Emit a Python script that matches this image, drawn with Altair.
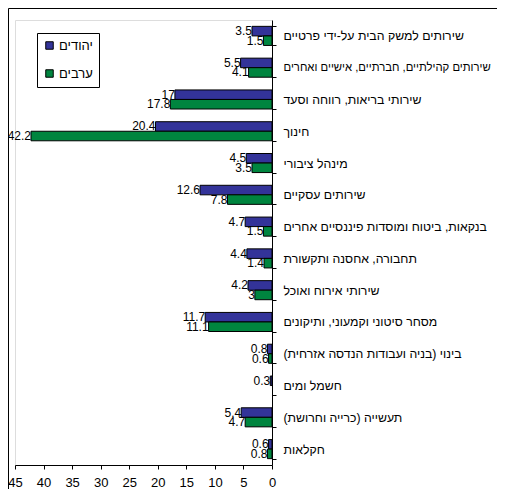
import altair as alt
import pandas as pd

RLM = "\u200f"
categories = [
    "שירותים למשק הבית על-ידי פרטיים",
    "שירותים קהילתיים, חברתיים, אישיים ואחרים",
    "שירותי בריאות, רווחה וסעד",
    "חינוך",
    "מינהל ציבורי",
    "שירותים עסקיים",
    "בנקאות, ביטוח ומוסדות פיננסיים אחרים",
    "תחבורה, אחסנה ותקשורת",
    "שירותי אירוח ואוכל",
    "מסחר סיטוני וקמעוני, ותיקונים",
    "בינוי (בניה ועבודות הנדסה אזרחית)" + RLM,
    "חשמל ומים",
    "תעשייה (כרייה וחרושת)" + RLM,
    "חקלאות",
]
jews = [3.5, 5.5, 17, 20.4, 4.5, 12.6, 4.7, 4.4, 4.2, 11.7, 0.8, 0.3, 5.4, 0.6]
arabs = [1.5, 4.1, 17.8, 42.2, 3.5, 7.8, 1.5, 1.4, 3, 11.1, 0.6, None, 4.7, 0.8]
groups = ["יהודים", "ערבים"]
colors = ["#333399", "#00853F"]
x_ticks = [0, 5, 10, 15, 20, 25, 30, 35, 40, 45]

rows = []
for i, c in enumerate(categories):
    for g, vals in zip(groups, [jews, arabs]):
        v = vals[i]
        if v is None:
            continue
        rows.append({"cat": c, "group": g, "value": v, "label": f"{v:g}"})
df = pd.DataFrame(rows)

FONT = "Liberation Sans"
W, H = 257, 445

y_enc = alt.Y(
    "cat:N",
    sort=categories,
    scale=alt.Scale(paddingInner=0.4, paddingOuter=0.2),
    axis=alt.Axis(
        orient="right", title=None, tickBand="extent", labelLimit=300,
        tickSize=4, labelPadding=7,
        labelFontSize={"condition": {"test": "length(datum.label) > 38", "value": 11.3}, "value": 12.3},
        labelFont=FONT,
        labelColor="black", domainColor="black", tickColor="black",
        labelAlign="left", labelBaseline="middle",
    ),
)
x_enc = alt.X(
    "value:Q",
    scale=alt.Scale(domain=[0, 45], reverse=True, nice=False),
    axis=alt.Axis(
        values=x_ticks, title=None, grid=False, tickSize=4, labelPadding=7,
        labelFontSize=13, labelFont=FONT, labelColor="black",
        labelOverlap=False, labelFlush=False,
        domainColor="black", tickColor="black",
    ),
)
yoff = alt.YOffset("group:N", sort=groups)

frame = alt.Chart(alt.Data(values=[{"a": 1}])).mark_rect(
    fill="transparent", stroke="black", strokeWidth=1
).encode(
    x=alt.value(-6.5), x2=alt.value(W + 300),
    y=alt.value(-11.5), y2=alt.value(H + 100),
)

bars = alt.Chart(df).mark_bar(stroke="black", strokeWidth=1).encode(
    y=y_enc, x=x_enc, yOffset=yoff,
    color=alt.Color(
        "group:N",
        scale=alt.Scale(domain=groups, range=colors),
        legend=alt.Legend(
            orient="none", legendX=22, legendY=13, title=None,
            symbolType="square", symbolSize=56, symbolStrokeColor="black",
            symbolStrokeWidth=1, symbolOpacity=1, strokeColor="black",
            fillColor="white", padding=6, rowPadding=14, labelOffset=3,
            labelFontSize=13, labelFont=FONT, labelColor="black",
        ),
    ),
)

labels = alt.Chart(df).mark_text(
    align="right", baseline="middle", dx=0, font=FONT, fontSize=12, color="black"
).encode(
    y=y_enc,
    x=x_enc,
    yOffset=yoff,
    text="label:N",
)

chart = alt.layer(frame, bars, labels).properties(
    width=W, height=H,
    autosize=alt.AutoSizeParams(type="none"),
    padding={"left": 7, "top": 12, "right": 225, "bottom": 24},
).configure_view(stroke=None).configure(background="white")

chart.save("out.html", embed_options={"renderer": "svg", "actions": False})
